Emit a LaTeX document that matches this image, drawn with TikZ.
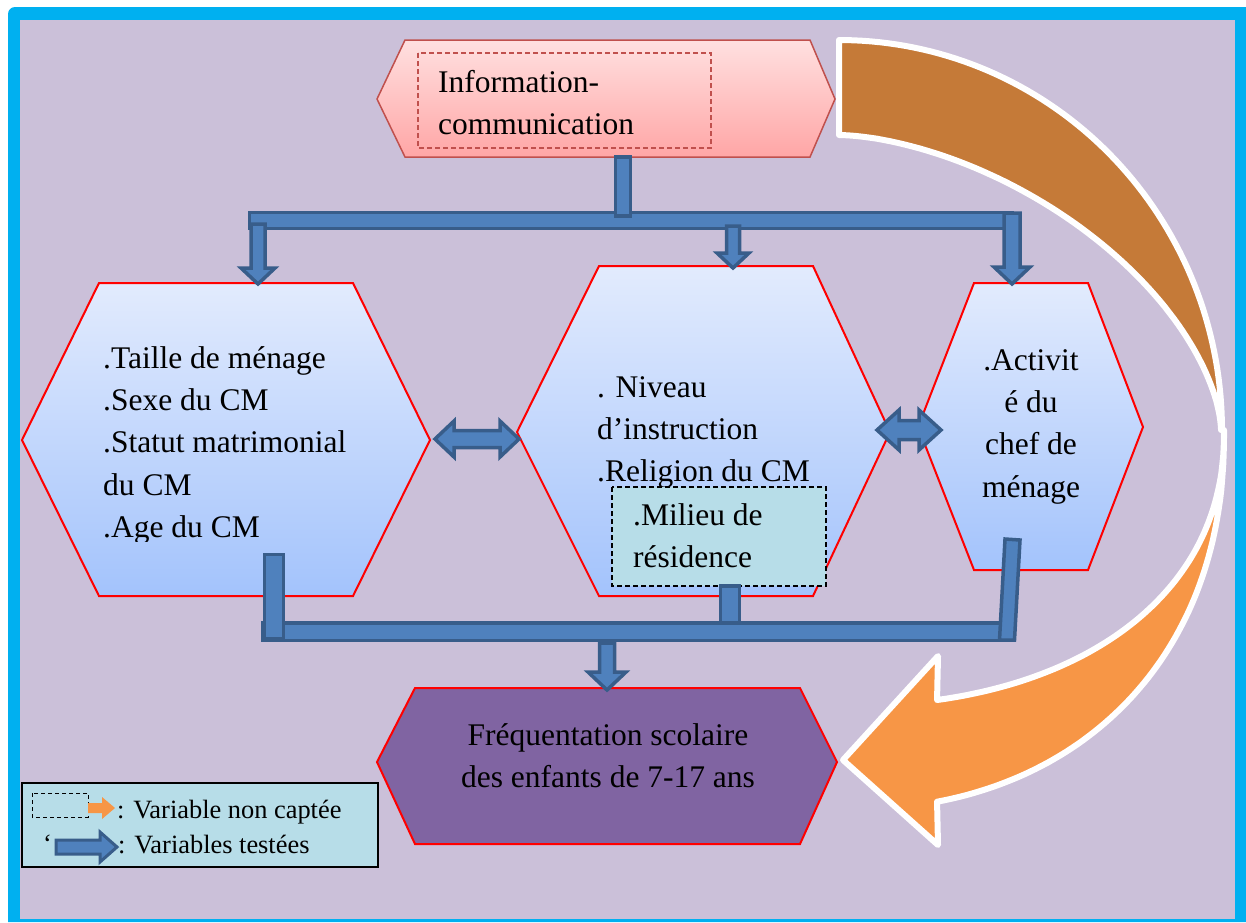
\documentclass[tikz,border=0pt]{standalone}
\usepackage{fontspec}
\setmainfont{Liberation Serif}
\definecolor{frameblue}{RGB}{0,176,240}
\definecolor{lavender}{RGB}{203,192,217}
\definecolor{arrowblue}{RGB}{79,129,189}
\definecolor{arrowedge}{RGB}{56,93,138}
\definecolor{hexTop}{RGB}{226,235,253}
\definecolor{hexBot}{RGB}{163,195,252}
\definecolor{pinkTop}{RGB}{255,224,224}
\definecolor{pinkBot}{RGB}{255,166,166}
\definecolor{pinkEdge}{RGB}{192,80,77}
\definecolor{purplefill}{RGB}{128,100,162}
\definecolor{boxblue}{RGB}{183,221,232}
\definecolor{darkorange}{RGB}{197,122,56}
\definecolor{lightorange}{RGB}{247,150,70}
\tikzset{
  blk/.style={fill=arrowblue, draw=arrowedge, line width=3.5pt, line join=miter},
  hexblue/.style={top color=hexTop, bottom color=hexBot, draw=red, line width=2pt},
  txt/.style={inner sep=0pt, font=\fontsize{31.5}{42.3}\selectfont, align=left, anchor=north west},
  txtc/.style={inner sep=0pt, font=\fontsize{31.5}{42.3}\selectfont, align=center, anchor=north},
  legtxt/.style={inner sep=0pt, font=\fontsize{26.4}{30}\selectfont, anchor=base west},
  curvebody/.style={draw=white, line width=6pt, line join=round},
}
\newcommand{\fl}{\rule{0pt}{25pt}}
\begin{document}
\begin{tikzpicture}[x=1pt,y=-1pt]
\useasboundingbox (0,0) rectangle (1246,922);
% frame
\fill[white] (0,0) rectangle (1246,922);
\fill[frameblue] (8,922) -- (8,14) arc[start angle=180, end angle=90, radius=7pt] -- (1246,7) -- (1246,922) -- cycle;
\fill[lavender] (20,20) rectangle (1235,919);

% top hexagon
\path[top color=pinkTop, bottom color=pinkBot, draw=pinkEdge, line width=1.5pt]
  (377,99) -- (405,40) -- (810,40) -- (835,99) -- (810,157) -- (405,157) -- cycle;
\draw[pinkEdge, dashed, dash pattern=on 5pt off 3pt, line width=1.5pt] (418,53) rectangle (711,148);
\node[txt] (info) at (438,67) {\fl Information-\\communication};

% three hexagons
\path[hexblue] (99,283) -- (353,283) -- (430,440) -- (353,596) -- (99,596) -- (22,440) -- cycle;
\path[hexblue] (599,266) -- (813,266) -- (890,432) -- (813,596) -- (599,596) -- (517,432) -- cycle;
\path[hexblue] (974,283) -- (1088,283) -- (1143,427) -- (1088,570) -- (974,570) -- (918,427) -- cycle;

\begin{scope}
\clip (0,0) rectangle (1246,541);
\node[txt] (left) at (103,343) {\fl .Taille de ménage\\.Sexe du CM\\.Statut matrimonial\\du CM\\.Age du CM};
\end{scope}
\node[txt] (mid) at (597,372) {\fl . Niveau\\d’instruction\\.Religion du CM};
\node[txtc] (right) at (1031,345) {\fl .Activit\\é du\\chef de\\ménage};

% milieu box
\draw[fill=boxblue, draw=black, dashed, dash pattern=on 5pt off 3pt, line width=1.3pt] (612,487) rectangle (826,586);
\node[txt] (milieu) at (633,500) {\fl .Milieu de\\résidence};

% bottom hexagon
\path[fill=purplefill, draw=red, line width=2pt]
  (377,762) -- (415,688) -- (800,688) -- (837,762) -- (800,844) -- (415,844) -- cycle;
\node[txtc] (freq) at (608,720) {\fl Fréquentation scolaire\\des enfants de 7-17 ans};

% top connectors
\path[blk] (249.5,212.5) rectangle (1012,228.5);
\path[blk] (615.5,157) rectangle (630.5,216);
\path[blk] (251,224) -- (265,224) -- (265,268) -- (275,268) -- (258,284) -- (241,268) -- (251,268) -- cycle;
\path[blk] (726.5,226) -- (739.5,226) -- (739.5,253) -- (749,253) -- (733,268) -- (717,253) -- (726.5,253) -- cycle;
\path[blk] (1004,213) -- (1020,213) -- (1020,267) -- (1030,267) -- (1012,284) -- (994,267) -- (1004,267) -- cycle;

% double arrows
\path[blk] (435,439) -- (454,421) -- (454,430.5) -- (500,430.5) -- (500,421) -- (519,439) -- (500,457) -- (500,447.5) -- (454,447.5) -- (454,457) -- cycle;
\path[blk] (877,430) -- (899,410) -- (899,420.5) -- (919,420.5) -- (919,410) -- (941,430) -- (919,450) -- (919,439.5) -- (899,439.5) -- (899,450) -- cycle;

% bottom connectors
\path[blk] (720.5,586) rectangle (739.5,624);
\path[blk] (263,623) rectangle (1012,640.5);
\path[blk] (264.5,554.5) rectangle (283.5,639);
\path[blk] (1005,539) -- (1020,540) -- (1014.5,640) -- (999.5,640) -- cycle;
\path[blk] (599.5,643) -- (614.5,643) -- (614.5,672) -- (626,672) -- (607,690) -- (588,672) -- (599.5,672) -- cycle;

% legend
\draw[fill=boxblue, draw=black, line width=1.2pt] (22,783) rectangle (378,867);
\draw[black, dashed, dash pattern=on 4pt off 3pt, line width=1pt] (32,793) rectangle (88,817);
\fill[lightorange] (88,803) -- (102,803) -- (102,797) -- (115,808) -- (102,819) -- (102,813) -- (88,813) -- cycle;
\node[legtxt] (leg1) at (117,818) {: Variable non captée};
\path[blk, line width=3pt] (56,840) -- (100,840) -- (100,832) -- (117,847) -- (100,862) -- (100,854) -- (56,854) -- cycle;
\node[legtxt] (legq) at (43,852) {‘};
\node[legtxt] (leg2) at (118,853) {: Variables testées};

% curved arrow
\path[curvebody, fill=darkorange]
  (839,40)
  -- plot[domain=89:0, samples=70] ({839+383*cos(\x)},{430-390*sin(\x)})
  -- (1221,430)
  -- plot[domain=0.5:89.5, samples=70] ({839+382*cos(\x)^1.2},{430-295*sin(\x)^1.2})
  -- (839,135) -- cycle;
\path[curvebody, fill=lightorange]
  (1224,430)
  -- plot[domain=0.5:77.37, samples=70] ({839+385*cos(\x)^0.9},{430+380*sin(\x)^0.9})
  -- (938,845) -- (843,760) -- (938,656)
  -- plot[domain=77.37:0.5, samples=70] ({839+385*cos(\x)^0.9},{430+276*sin(\x)^0.9})
  -- cycle;
\end{tikzpicture}
\end{document}
